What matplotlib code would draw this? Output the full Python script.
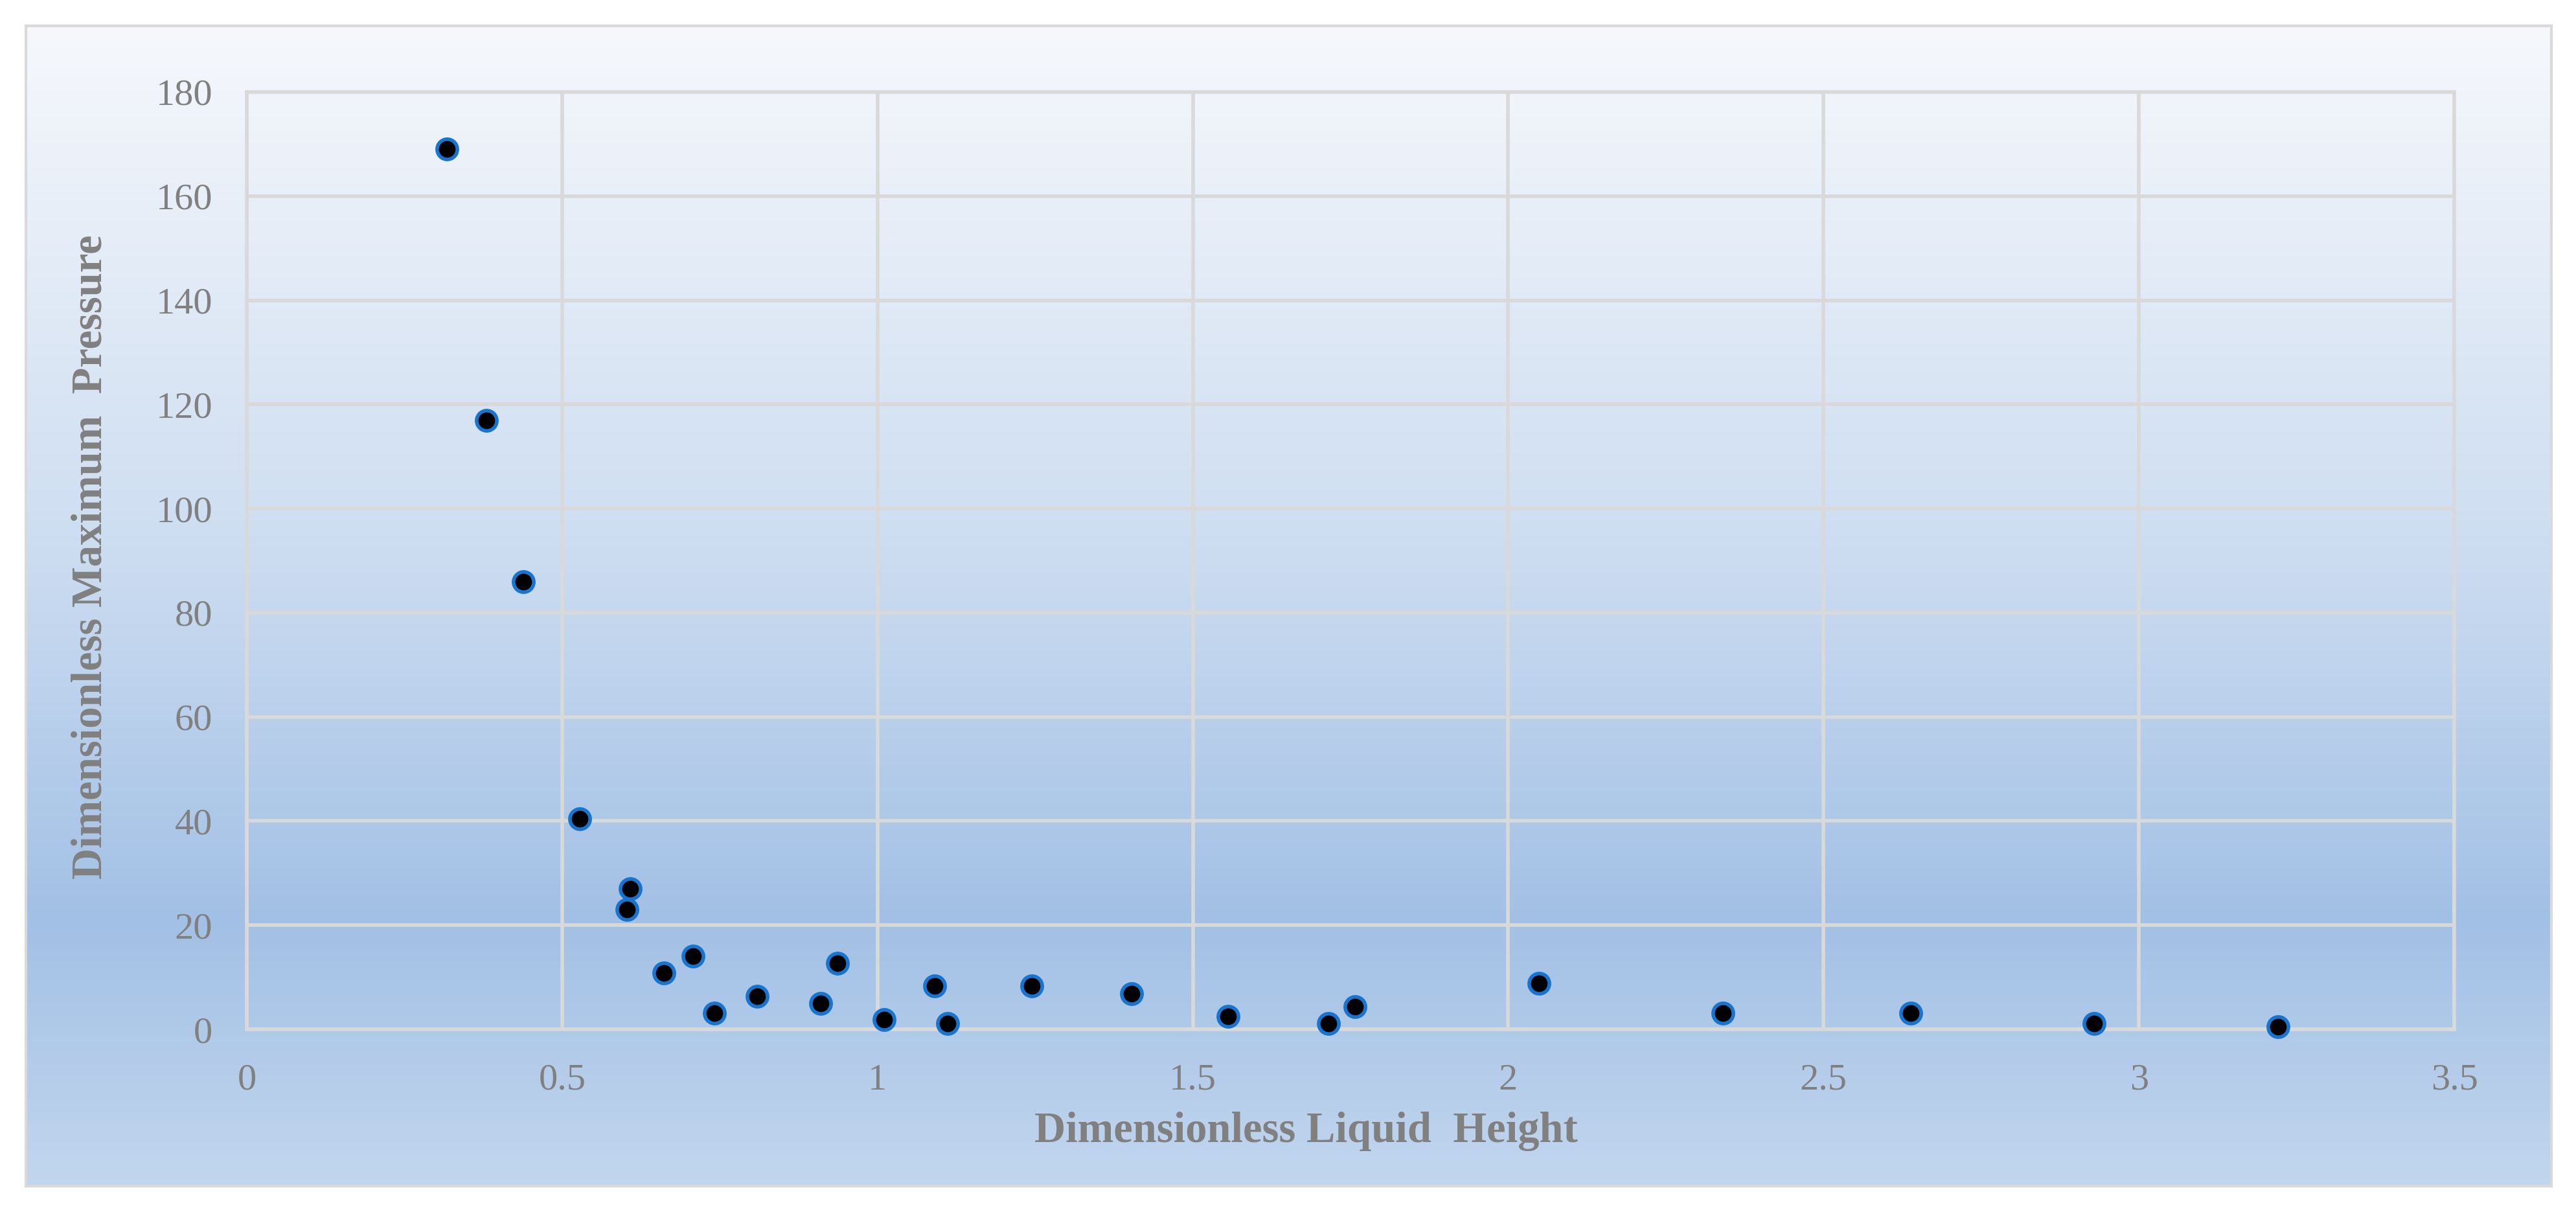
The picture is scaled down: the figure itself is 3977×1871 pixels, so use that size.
import numpy as np
import matplotlib
matplotlib.use('Agg')
import matplotlib.pyplot as plt
from matplotlib.ticker import FuncFormatter

# data
liquid_height = [0.317, 0.380, 0.439, 0.528, 0.608, 0.603, 0.661, 0.708, 0.741, 0.809,
                 0.910, 0.937, 1.011, 1.091, 1.111, 1.245, 1.403, 1.556, 1.715, 1.757,
                 2.049, 2.341, 2.638, 2.929, 3.221]
max_pressure = [169.0, 116.9, 86.0, 40.4, 27.0, 23.0, 10.8, 14.1, 3.1, 6.3,
                5.0, 12.7, 1.9, 8.3, 1.1, 8.3, 6.9, 2.5, 1.1, 4.4,
                8.8, 3.1, 3.1, 1.1, 0.5]
x_ticks = [0, 0.5, 1, 1.5, 2, 2.5, 3, 3.5]
y_ticks = [0, 20, 40, 60, 80, 100, 120, 140, 160, 180]

W, H = 3977, 1871
DPI = 100
grey = '#D9D9D9'
text_grey = '#808080'
plt.rcParams['font.family'] = ['Liberation Serif', 'DejaVu Serif']

fig = plt.figure(figsize=(W / DPI, H / DPI), dpi=DPI)
fig.patch.set_facecolor('white')

# chart area with vertical gradient fill
bx0, by0, bx1, by1 = 40, 40, 3939, 1831
bg = fig.add_axes([bx0 / W, 1 - by1 / H, (bx1 - bx0) / W, (by1 - by0) / H])
stops = [0.0, 0.45, 0.77, 1.0]
cols = np.array([[246, 248, 252], [205, 221, 241], [162, 192, 229], [194, 214, 238]]) / 255.0
t = np.linspace(0, 1, 400)
grad = np.stack([np.interp(t, stops, cols[:, k]) for k in range(3)], axis=1)
bg.imshow(grad[:, None, :], aspect='auto', extent=[0, 1, 0, 1], origin='upper', zorder=0)
bg.set_xticks([])
bg.set_yticks([])
for s in bg.spines.values():
    s.set_color(grey)
    s.set_linewidth(3)

# plot area
px0, py0, px1, py1 = 381, 142, 3789, 1589
ax = fig.add_axes([px0 / W, 1 - py1 / H, (px1 - px0) / W, (py1 - py0) / H])
ax.patch.set_alpha(0)
ax.set_xlim(0, 3.5)
ax.set_ylim(0, 180)
ax.set_xticks(x_ticks)
ax.set_yticks(y_ticks)
ax.xaxis.set_major_formatter(FuncFormatter(lambda v, p: '%g' % v))
ax.grid(True, color=grey, linewidth=4)
ax.set_axisbelow(True)
for s in ax.spines.values():
    s.set_color(grey)
    s.set_linewidth(4)
ax.tick_params(length=0, labelsize=42, labelcolor=text_grey)
ax.tick_params(axis='x', pad=38)
ax.tick_params(axis='y', pad=38)

ax.plot(liquid_height, max_pressure, linestyle='none', marker='o', markersize=22.5,
        markerfacecolor='black', markeredgecolor='#1874CD', markeredgewidth=4,
        clip_on=False, zorder=5)

fig.text(2016 / W, 1 - 1763 / H, 'Dimensionless Liquid  Height', fontsize=48,
         fontweight='bold', color=text_grey, ha='center', va='baseline')
fig.text(140 / W, 1 - 860 / H, 'Dimensionless Maximum  Pressure', fontsize=48,
         fontweight='bold', color=text_grey, ha='center', va='center', rotation=90)

fig.savefig('out.png', dpi=DPI)
